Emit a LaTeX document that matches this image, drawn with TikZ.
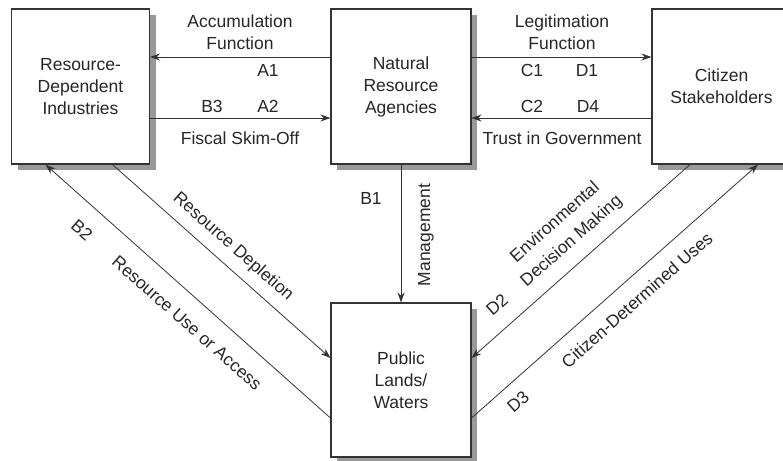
\documentclass[tikz,border=0pt]{standalone}
\usepackage{fontspec}
\setmainfont{Liberation Sans}
\usetikzlibrary{shadows,arrows.meta}
\begin{document}
\begin{tikzpicture}[x=1pt,y=-1pt,
  font=\fontsize{17.5}{22}\selectfont, text=black!85,
  box/.style={draw=black!80, line width=1.1pt, fill=white, minimum height=155pt,
    align=center, inner sep=0pt,
    drop shadow={shadow xshift=6pt, shadow yshift=-6pt, fill=black!40, opacity=1}},
  conn/.style={draw=black!80, line width=0.8pt, -{Stealth[length=10pt,width=7pt]}},
  lbl/.style={inner sep=0pt, align=center}]
\useasboundingbox (0,0) rectangle (783,460);

% boxes
\node[box, minimum width=138pt] (rdi) at (80.5,86.5) {Resource-\\Dependent\\Industries};
\node[box, minimum width=140pt] (nra) at (401,86.5) {Natural\\Resource\\Agencies};
\node[box, minimum width=139pt] (cs) at (721.5,86.5) {Citizen\\Stakeholders};
\node[box, minimum width=140pt, minimum height=154pt] (plw) at (401,380) {Public\\Lands/\\Waters};

% connectors
\draw[conn] ([yshift=29.5pt]nra.west) -- ([yshift=29.5pt]rdi.east);
\draw[conn] ([yshift=-31.5pt]rdi.east) -- ([yshift=-31.5pt]nra.west);
\draw[conn] ([yshift=29.5pt]nra.east) -- ([yshift=29.5pt]cs.west);
\draw[conn] ([yshift=-31.5pt]cs.west) -- ([yshift=-31.5pt]nra.east);
\draw[conn] (nra.south) -- (plw.north);
\draw[conn] ([xshift=32pt]rdi.south) -- ([yshift=22pt]plw.west);
\draw[conn] ([yshift=-38pt]plw.west) -- ([xshift=-35pt]rdi.south);
\draw[conn] ([xshift=-31.5pt]cs.south) -- ([yshift=22pt]plw.east);
\draw[conn] ([yshift=-38pt]plw.east) -- ([xshift=36.5pt]cs.south);

% labels top-left
\node[lbl] (accf) at (240,32) {Accumulation\\Function};
\node[lbl] (a1) at (268,70) {A1};
\node[lbl] (b3) at (212,106) {B3};
\node[lbl] (a2) at (268,106) {A2};
\node[lbl] (fso) at (240,138) {Fiscal Skim-Off};

% labels top-right
\node[lbl] (legf) at (562,32) {Legitimation\\Function};
\node[lbl] (c1) at (532,70) {C1};
\node[lbl] (d1) at (587,70) {D1};
\node[lbl] (c2) at (532,106) {C2};
\node[lbl] (d4) at (588,106) {D4};
\node[lbl] (tig) at (562,138) {Trust in Government};

% middle
\node[lbl] (b1) at (371,198) {B1};
\node[lbl, rotate=90] (mgmt) at (426,235) {Management};

% left diagonals
\node[lbl, rotate=-41.4] (rdep) at (233,247) {Resource Depletion};
\node[lbl, rotate=-41.4] (b2) at (82,230) {B2};
\node[lbl, rotate=-41.4] (ruse) at (187,323) {Resource Use or Access};

% right diagonals
\node[lbl, rotate=41.4] (env) at (563.5,232) {Environmental\\[3pt]Decision Making};
\node[lbl, rotate=41.4] (d2) at (497,305) {D2};
\node[lbl, rotate=41.4] (cdu) at (637,300) {Citizen-Determined Uses};
\node[lbl, rotate=41.4] (d3) at (518,402) {D3};
\end{tikzpicture}
\end{document}
